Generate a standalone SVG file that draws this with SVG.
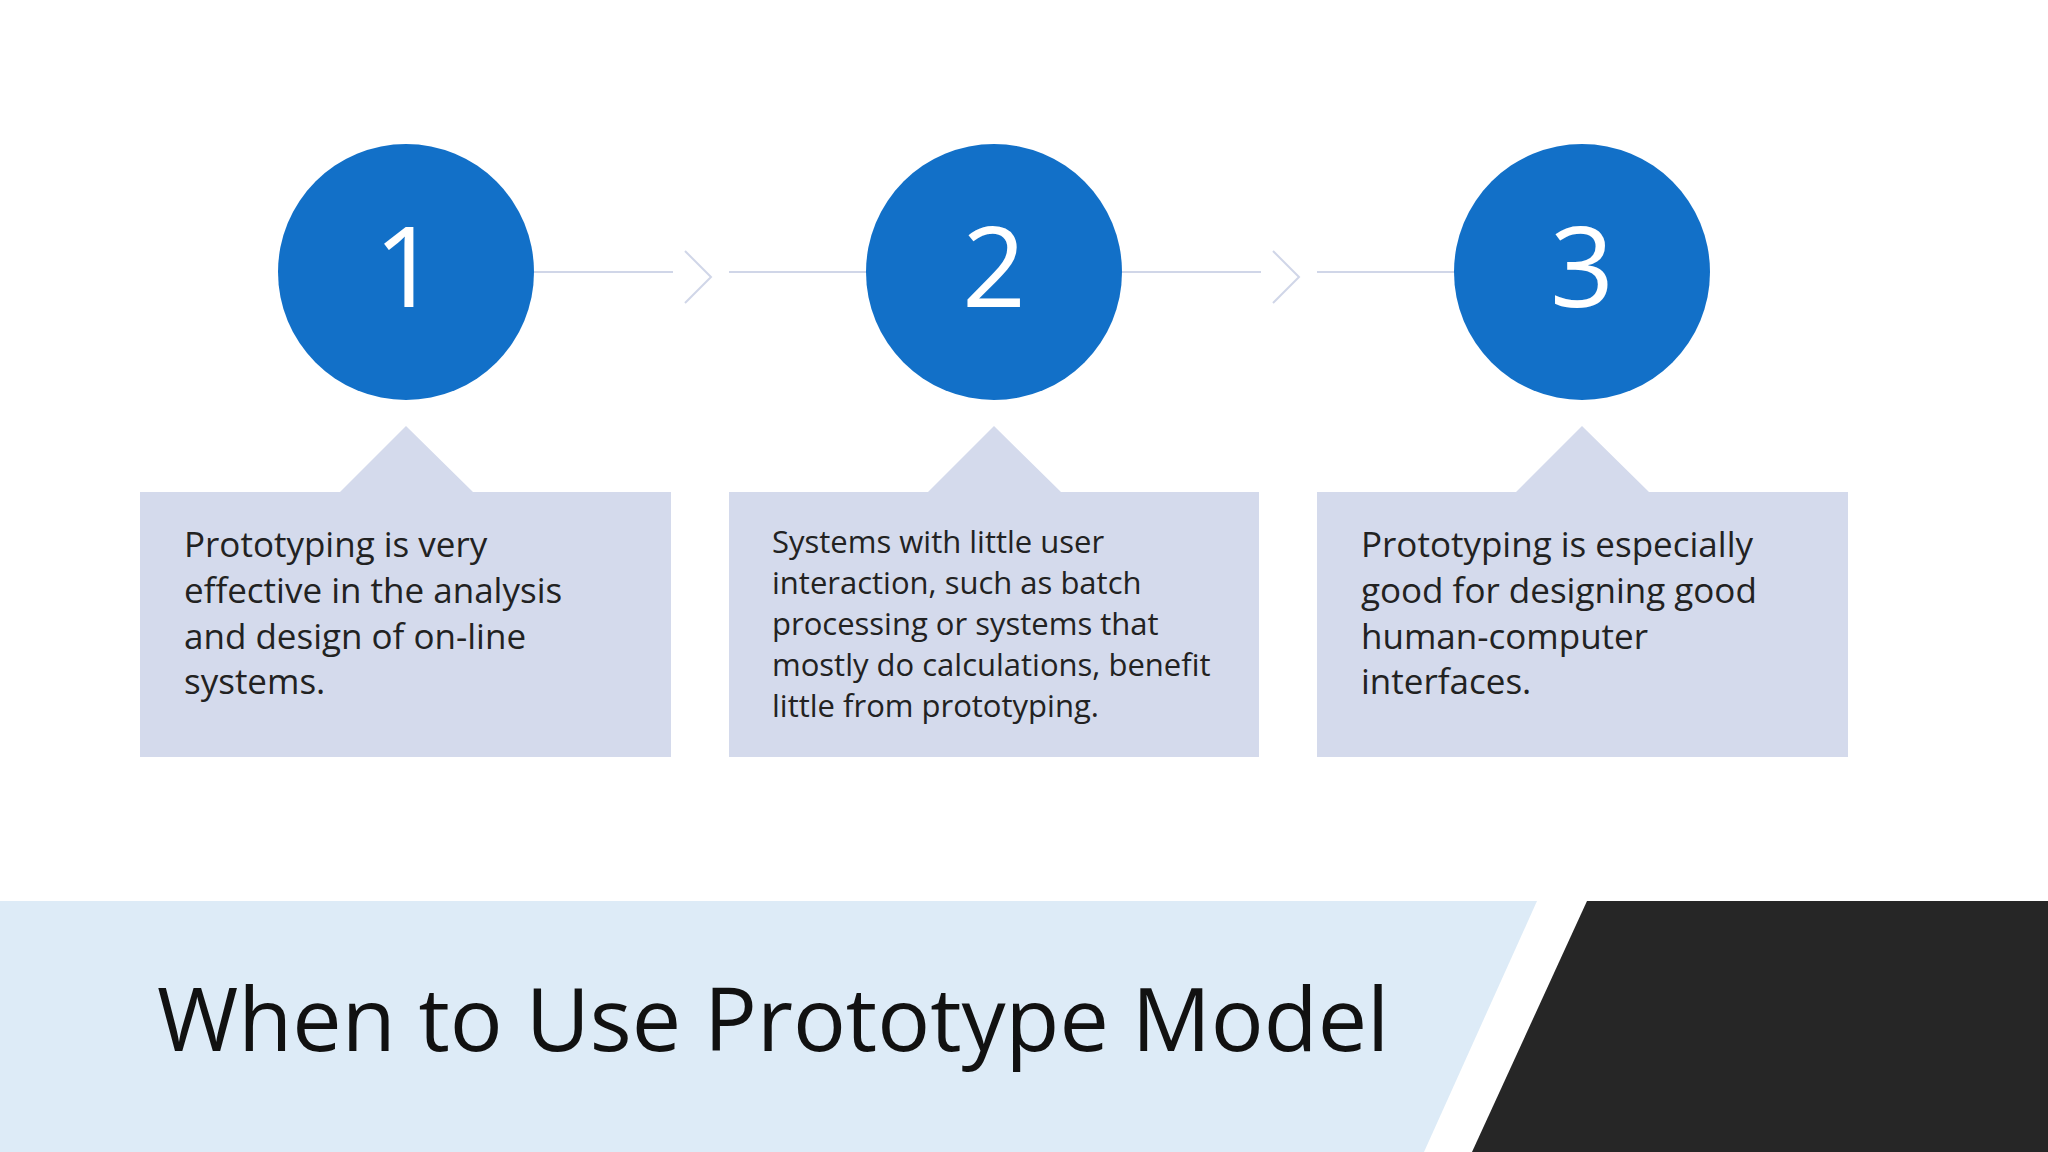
<svg xmlns="http://www.w3.org/2000/svg" width="2048" height="1152" viewBox="0 0 2048 1152">
<style>
.c{fill:#1270C8}
.n{fill:#fff;font-family:"Open Sans","Noto Sans",sans-serif;font-size:112px;text-anchor:middle}
.b{fill:#D4DAEC}
.t{fill:#222;font-family:"Open Sans","Noto Sans",sans-serif;font-size:35px}
.t2{fill:#222;font-family:"Open Sans","Noto Sans",sans-serif;font-size:31px}
.l{stroke:#D0D6E8;stroke-width:2;fill:none}
</style>
<rect width="2048" height="1152" fill="#fff"/>
<g id="connectors">
<line class="l" x1="534" y1="272" x2="673" y2="272"/>
<polyline class="l" points="685,251 711,277 685,303" stroke-width="3"/>
<line class="l" x1="729" y1="272" x2="868" y2="272"/>
<line class="l" x1="1122" y1="272" x2="1261" y2="272"/>
<polyline class="l" points="1273,251 1299,277 1273,303" stroke-width="3"/>
<line class="l" x1="1317" y1="272" x2="1456" y2="272"/>
</g>
<g id="step1">
<circle class="c" cx="406" cy="272" r="128"/>
<text class="n" x="406" y="307">1</text>
<polygon class="b" points="140,492 340,492 406,426 473,492 671,492 671,757 140,757"/>
<text class="t" x="184" y="557">Prototyping is very</text>
<text class="t" x="184" y="603">effective in the analysis</text>
<text class="t" x="184" y="649">and design of on-line</text>
<text class="t" x="184" y="694">systems.</text>
</g>
<g id="step2">
<circle class="c" cx="994" cy="272" r="128"/>
<text class="n" x="994" y="307">2</text>
<polygon class="b" points="729,492 928,492 994,426 1061,492 1259,492 1259,757 729,757"/>
<text class="t2" x="772" y="553">Systems with little user</text>
<text class="t2" x="772" y="594">interaction, such as batch</text>
<text class="t2" x="772" y="635">processing or systems that</text>
<text class="t2" x="772" y="676">mostly do calculations, benefit</text>
<text class="t2" x="772" y="717">little from prototyping.</text>
</g>
<g id="step3">
<circle class="c" cx="1582" cy="272" r="128"/>
<text class="n" x="1582" y="307">3</text>
<polygon class="b" points="1317,492 1516,492 1582,426 1649,492 1848,492 1848,757 1317,757"/>
<text class="t" x="1361" y="557">Prototyping is especially</text>
<text class="t" x="1361" y="603">good for designing good</text>
<text class="t" x="1361" y="649">human-computer</text>
<text class="t" x="1361" y="694">interfaces.</text>
</g>
<g id="title">
<polygon points="0,901 1537,901 1424,1152 0,1152" fill="#DDEBF7"/>
<polygon points="1587,901 2048,901 2048,1152 1472,1152" fill="#262626"/>
<text x="157" y="1051" font-family="Open Sans,Noto Sans,sans-serif" font-size="88" fill="#111">When to Use Prototype Model</text>
</g>
</svg>
